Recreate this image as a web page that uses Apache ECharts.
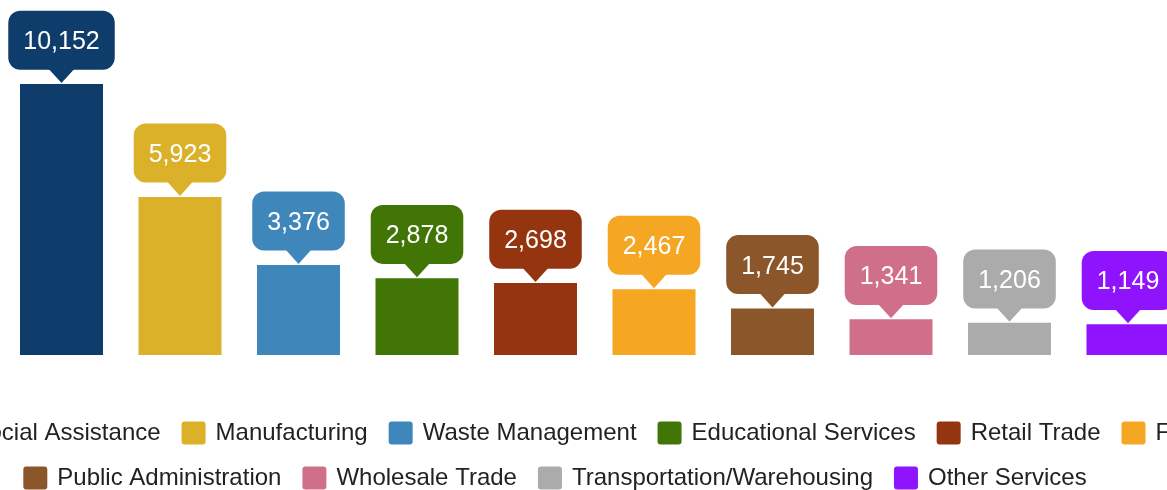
<!DOCTYPE html>
<html>
<head>
<meta charset="utf-8">
<script src="https://cdn.jsdelivr.net/npm/echarts@6/dist/echarts.min.js"></script>
<style>
  html, body { margin: 0; padding: 0; overflow: hidden; background: #fff; }
  body { width: 1167px; height: 490px; position: relative; }
  /* chart is wider than the window, legend row 1 runs off both sides */
  #chart { position: absolute; left: -295px; top: 0; width: 1700px; height: 490px; }
</style>
</head>
<body>
<div id="chart"></div>
<script>
var industries = ['Health Care and Social Assistance', 'Manufacturing', 'Waste Management', 'Educational Services',
    'Retail Trade', 'Finance/Insurance', 'Public Administration', 'Wholesale Trade',
    'Transportation/Warehousing', 'Other Services'];
var counts = [10152, 5923, 3376, 2878, 2698, 2467, 1745, 1341, 1206, 1149];
var colors = ['#0f3d6b', '#dab128', '#3f87bb', '#417505', '#943510', '#f5a623', '#8b572a', '#d06f8a', '#ababab', '#9013fe'];

var font = "'Liberation Sans', Arial, sans-serif";
var myChart = echarts.init(document.getElementById('chart'));

// one series per industry so the legend gets an entry for each
var series = [];
for (var i = 0; i < industries.length; i++) {
    series.push({
        name: industries[i],
        type: 'bar',
        barWidth: 83,
        barGap: '-100%',
        itemStyle: { color: colors[i] },
        data: counts.map(function (v, j) { return j === i ? v : '-'; })
    });
}

// callout bubbles above each bar
series.push({
    name: 'labels',
    type: 'custom',
    silent: true,
    z: 10,
    data: counts.map(function (v, j) { return [j, v]; }),
    renderItem: function (params, api) {
        var pt = api.coord([api.value(0), api.value(1)]);
        var x = pt[0], top = pt[1];
        var c = colors[params.dataIndex];
        var boxBottom = top - 14.3;
        return {
            type: 'group',
            children: [{
                type: 'polygon',
                shape: { points: [[x - 13, boxBottom - 1], [x + 13, boxBottom - 1], [x, top - 1]] },
                style: { fill: c }
            }, {
                type: 'text',
                x: x,
                y: boxBottom,
                style: {
                    text: api.value(1).toLocaleString('en-US'),
                    fill: '#fff',
                    font: '25px ' + font,
                    align: 'center',
                    verticalAlign: 'bottom',
                    backgroundColor: c,
                    borderRadius: 12,
                    padding: [19, 15, 15, 15]
                }
            }]
        };
    }
});

var legendBase = {
    orient: 'horizontal',
    left: 'center',
    padding: 0,
    itemWidth: 24,
    itemHeight: 23,
    itemGap: 21,
    icon: 'path://M3,0 H21 A3,3 0 0 1 24,3 V20 A3,3 0 0 1 21,23 H3 A3,3 0 0 1 0,20 V3 A3,3 0 0 1 3,0 Z',
    textStyle: { fontSize: 24, color: '#222', fontFamily: font, padding: [0, 0, 0, 5] }
};

var option = {
    animation: false,
    grid: { left: 297.25, right: 217.75, top: 34.7, bottom: 135 },
    xAxis: { type: 'category', data: industries, show: false },
    yAxis: { type: 'value', min: 0, max: 12000, show: false },
    legend: [
        Object.assign({}, legendBase, { top: 421, data: industries.slice(0, 6) }),
        Object.assign({}, legendBase, { top: 466, data: industries.slice(6) })
    ],
    series: series
};
myChart.setOption(option);
</script>
</body>
</html>
